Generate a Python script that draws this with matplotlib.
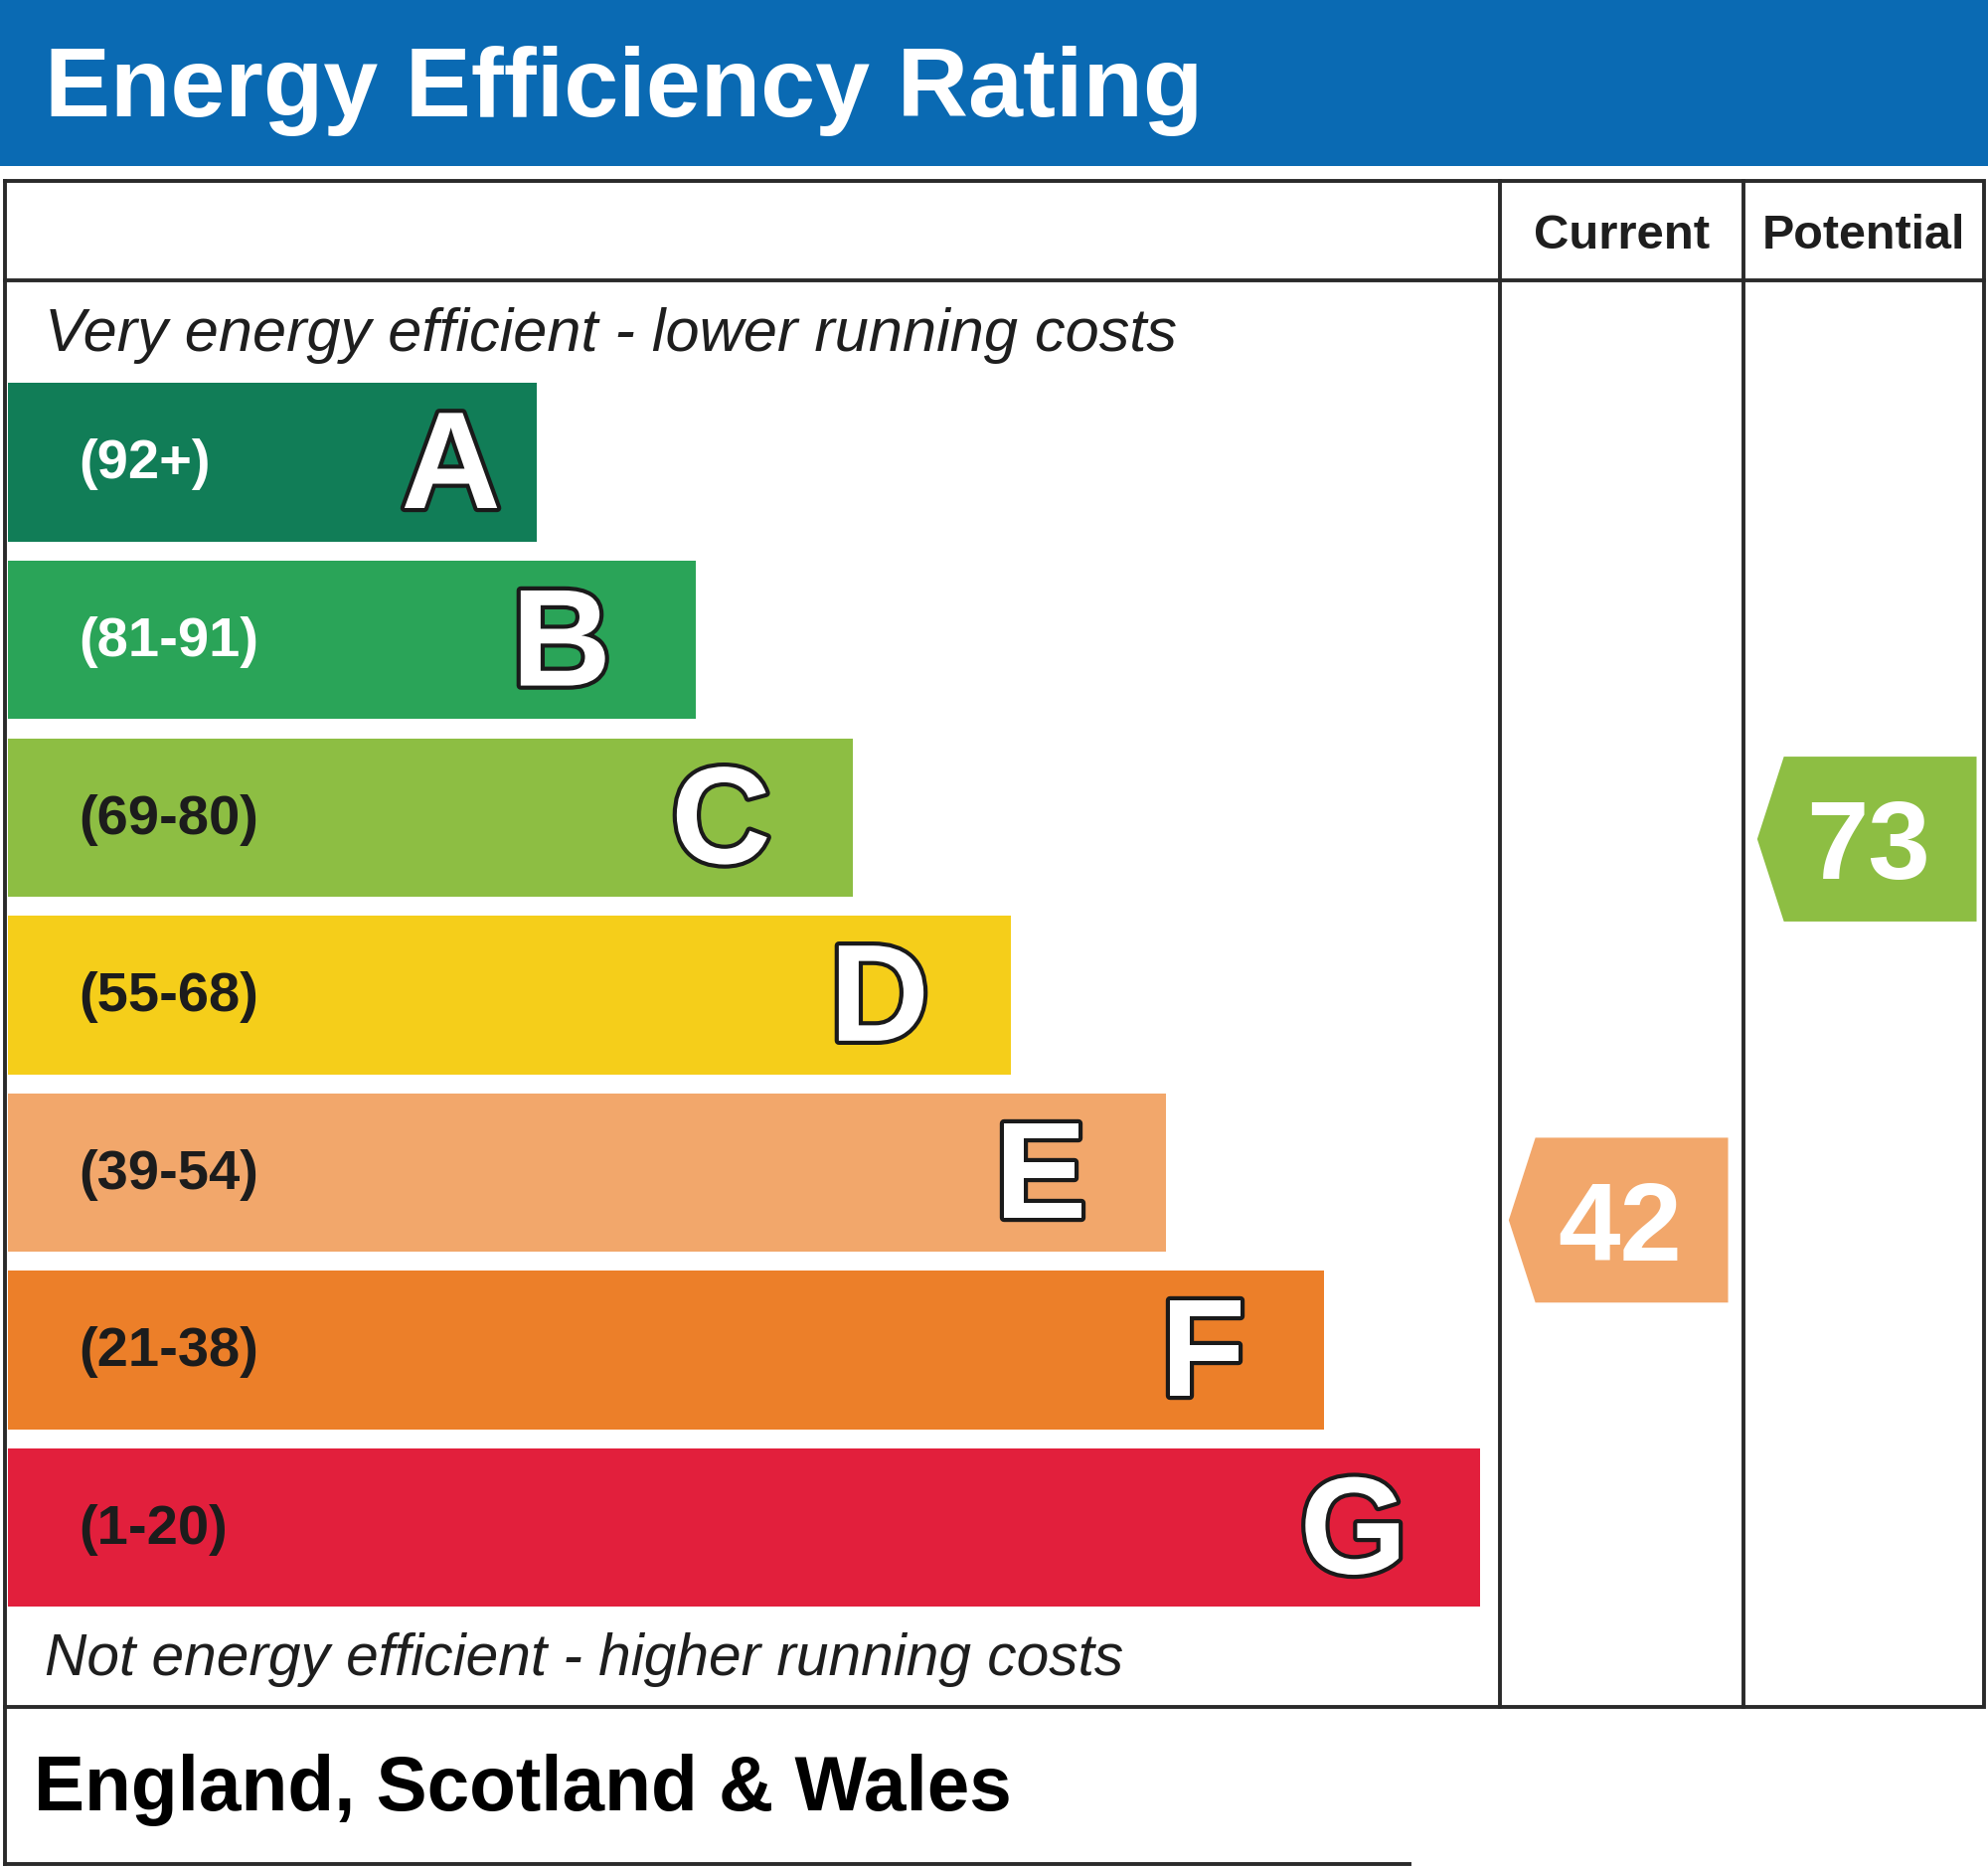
import matplotlib
matplotlib.use("Agg")
import matplotlib.pyplot as plt
import matplotlib.patheffects as pe
from matplotlib.patches import Rectangle, Polygon

# EPC bands
bands = ["A", "B", "C", "D", "E", "F", "G"]
band_ranges = ["(92+)", "(81-91)", "(69-80)", "(55-68)", "(39-54)", "(21-38)", "(1-20)"]
band_lo = [92, 81, 69, 55, 39, 21, 1]
band_hi = [100, 91, 80, 68, 54, 38, 20]
band_colors = ["#117D57", "#2AA458", "#8DBE43", "#F5CE1A", "#F2A76B", "#EC7F29", "#E21F3C"]
range_colors = ["white", "white", "#1c1c1c", "#1c1c1c", "#1c1c1c", "#1c1c1c", "#1c1c1c"]
bar_lengths = [417, 543, 667, 791, 914, 1038, 1161]

# ratings
current = 42
potential = 73

# canvas in reference pixel units
W, H = 1568, 1472
PT = 2000 / W * 0.72   # points per unit
FONT = "Liberation Sans"
LINE = "#2a2a2a"
LW = 2.8
letter_gap = [28, 67, 65, 64, 63, 62, 57]


def fs(em):
    return em * PT


def band_of(v):
    for i in range(len(bands)):
        if band_lo[i] <= v <= band_hi[i]:
            return i
    return len(bands) - 1


fig = plt.figure(figsize=(20, 18.78), dpi=100)
fig.patch.set_facecolor("white")
ax = fig.add_axes([0, 0, 1, 1])
ax.set_xlim(0, W)
ax.set_ylim(H, 0)
ax.axis("off")

# header
ax.add_patch(Rectangle((0, 0), W, 131, facecolor="#0A6AB3", edgecolor="none"))
ax.text(35, 92, "Energy Efficiency Rating", fontsize=fs(77.5), fontweight="bold",
        color="white", family=FONT, va="baseline", ha="left")

# table frame
top, head, bottom = 143, 221, 1346
left, right = 4, 1565
col1, col2 = 1183, 1375
ax.plot([left, right, right, left, left], [top, top, bottom, bottom, top],
        color=LINE, lw=LW, solid_joinstyle="miter")
ax.plot([left, right], [head, head], color=LINE, lw=LW)
ax.plot([col1, col1], [top, bottom], color=LINE, lw=LW)
ax.plot([col2, col2], [top, bottom], color=LINE, lw=LW)

ax.text((col1 + col2) / 2, 196, "Current", fontsize=fs(38.5), fontweight="bold",
        color="#1e1e1e", family=FONT, ha="center", va="baseline")
ax.text((col2 + right) / 2, 196, "Potential", fontsize=fs(38), fontweight="bold",
        color="#1e1e1e", family=FONT, ha="center", va="baseline")

ax.text(35, 277, "Very energy efficient - lower running costs", fontsize=fs(48),
        style="italic", color="#1e1e1e", family=FONT, ha="left", va="baseline")
ax.text(35, 1321, "Not energy efficient - higher running costs", fontsize=fs(46),
        style="italic", color="#1e1e1e", family=FONT, ha="left", va="baseline")

# bars
bar_x0, bar_top0, bar_h, bar_step = 6, 302, 125, 140
letter_em, range_em = 109, 44
for i, b in enumerate(bands):
    y0 = bar_top0 + i * bar_step
    yc = y0 + bar_h / 2
    ax.add_patch(Rectangle((bar_x0, y0), bar_lengths[i], bar_h,
                           facecolor=band_colors[i], edgecolor="none"))
    ax.text(62, yc + 0.716 * range_em / 2 - 3, band_ranges[i], fontsize=fs(range_em),
            fontweight="bold", color=range_colors[i], family=FONT,
            ha="left", va="baseline")
    t = ax.text(bar_x0 + bar_lengths[i] - letter_gap[i], yc + 0.716 * letter_em / 2 - 3, b,
                fontsize=fs(letter_em), fontweight="bold", color="white",
                family=FONT, ha="right", va="baseline")
    t.set_path_effects([pe.Stroke(linewidth=6, foreground="#1a1a1a"), pe.Normal()])


# rating arrows
def badge(value, x_tip, x_right):
    i = band_of(value)
    frac = (band_hi[i] - value) / (band_hi[i] - band_lo[i])
    yc = bar_top0 + i * bar_step + frac * bar_h
    half = 65
    pts = [(x_tip + 21, yc - half), (x_right, yc - half), (x_right, yc + half),
           (x_tip + 21, yc + half), (x_tip, yc)]
    ax.add_patch(Polygon(pts, closed=True, facecolor=band_colors[i], edgecolor="none"))
    ax.text((x_tip + x_right) / 2 + 1, yc + 0.716 * 88 / 2, str(value),
            fontsize=fs(88), fontweight="bold", color="white", family=FONT,
            ha="center", va="baseline")


badge(current, 1190, 1363)
badge(potential, 1386, 1559)

# footer box
ax.plot([left, 1112], [1470, 1470], color=LINE, lw=LW)
ax.plot([left, left], [bottom, 1470], color=LINE, lw=LW)
ax.text(27, 1427, "England, Scotland & Wales", fontsize=fs(60), fontweight="bold",
        color="black", family=FONT, ha="left", va="baseline")

fig.savefig("out.png", dpi=100, facecolor="white")
